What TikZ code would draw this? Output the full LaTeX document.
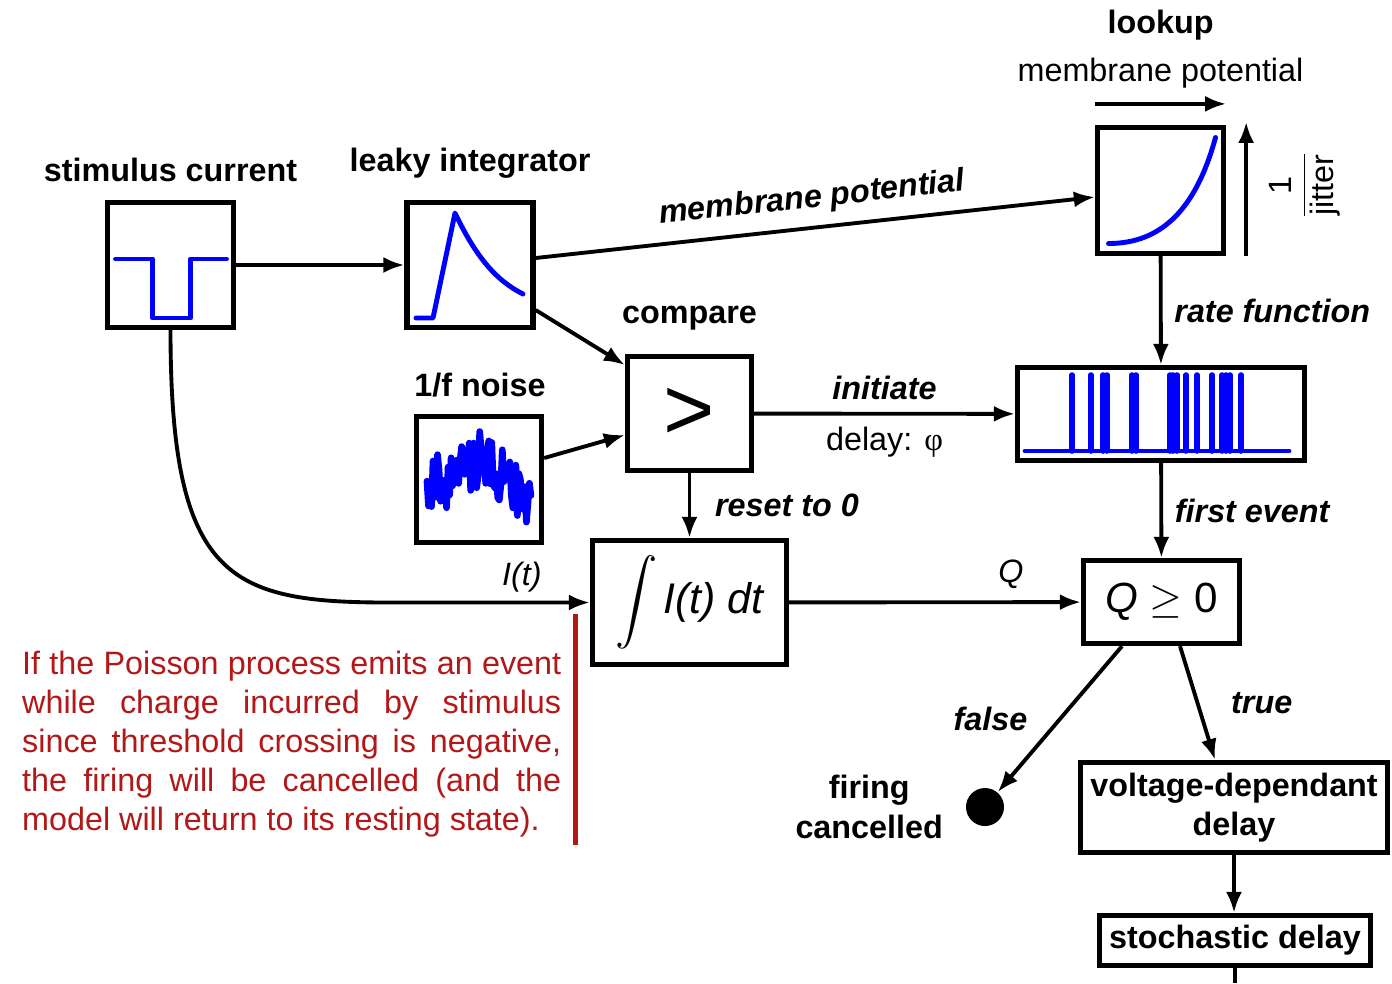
\documentclass[tikz,border=0pt]{standalone}
\usepackage{amsmath}
\usepackage{fontspec}
\setmainfont{Liberation Sans}
\newfontfamily\phifont{Liberation Serif}
\usetikzlibrary{arrows.meta}
\definecolor{notered}{RGB}{178,24,24}
\tikzset{
  box/.style={draw, line width=1.5pt, fill=white, inner sep=0pt},
  conn/.style={line width=1.1pt, -{Latex[length=0.21cm,width=0.16cm]}},
  sig/.style={blue, line width=1.4pt, line cap=round, line join=round},
  lbl/.style={font=\fontsize{9.2}{11.3}\selectfont\bfseries},
  elbl/.style={font=\fontsize{9.2}{11.3}\selectfont\bfseries\itshape},
  txt/.style={font=\fontsize{9.2}{11.1}\selectfont},
}
\begin{document}
\begin{tikzpicture}
  \useasboundingbox (0,0) rectangle (13.92,-9.83);
  %blocks
  \node[box, minimum width=1.26cm, minimum height=1.25cm] (stim) at (1.705,-2.65) {};
  \node[box, minimum width=1.26cm, minimum height=1.25cm] (leaky) at (4.70,-2.65) {};
  \node[box, minimum width=1.26cm, minimum height=1.26cm] (lookup) at (11.605,-1.905) {};
  \node[box, minimum width=1.24cm, minimum height=1.14cm, font=\fontsize{25}{25}\selectfont] (compare) at (6.895,-4.135) {>};
  \node[box, minimum width=1.25cm, minimum height=1.26cm] (noise) at (4.79,-4.795) {};
  \node[box, minimum width=2.87cm, minimum height=0.93cm] (spikes) at (11.61,-4.14) {};
  \node[box, minimum width=1.94cm, minimum height=1.24cm] (integ) at (6.895,-6.025)
    {{\fontsize{11.5}{14}\selectfont$\displaystyle\int$}\,{\fontsize{12.2}{14}\selectfont\itshape I(t) dt}};
  \node[box, minimum width=1.56cm, minimum height=0.83cm] (qtest) at (11.615,-6.02)
    {\fontsize{12}{14}\selectfont\itshape Q \upshape$\geq$ 0};
  \node[box, lbl, align=center, minimum width=3.07cm, minimum height=0.9cm] (vdelay) at (12.34,-8.075)
    {voltage-dependant\\delay};
  \node[box, lbl, minimum width=2.71cm, minimum height=0.5cm] (sdelay) at (12.35,-9.405) {stochastic delay};
  \node[circle, fill, inner sep=0pt, minimum size=0.38cm] (dot) at (9.85,-8.07) {};
  \coordinate (out) at (12.36,-9.83);
  %signals inside the blocks
  \begin{scope}[shift={(stim.center)}]
    \draw[sig] (-0.55,0.06) -- (-0.18,0.06) -- (-0.18,-0.53) -- (0.2,-0.53) -- (0.2,0.06) -- (0.56,0.06);
  \end{scope}
  \begin{scope}[shift={(leaky.center)}]
    \draw[sig] (-0.54,-0.53) -- (-0.37,-0.53) -- (-0.15,0.52) .. controls (0.05,0.1) and (0.25,-0.15) .. (0.53,-0.29);
  \end{scope}
  \begin{scope}[shift={(lookup.center)}]
    \draw[sig] (-0.52,-0.53) .. controls (0.0,-0.53) and (0.35,-0.2) .. (0.55,0.53);
  \end{scope}
  \begin{scope}[shift={(noise.center)}]
    \pgfmathsetseed{5}
    \draw[sig, line width=1.9pt] plot[domain=-0.52:0.52, samples=70]
      (\x, {0.3*exp(-((\x-0.03)^2)/0.05) - 0.08 - 0.15*\x + 0.29*rand});
  \end{scope}
  \begin{scope}[shift={(spikes.center)}]
    \draw[sig] (-1.36,-0.37) -- (1.28,-0.37);
    \foreach \s in {-0.89,-0.70,-0.58,-0.54,-0.29,-0.25,0.09,0.12,0.16,0.25,0.36,0.51,0.61,0.65,0.69,0.80}
      \draw[sig, line width=1.6pt] (\s,-0.37) -- (\s,0.39);
  \end{scope}
  %labels
  \node[lbl] (stimlbl) at (1.705,-1.70) {stimulus current};
  \node[lbl] (leakylbl) at (4.70,-1.63) {leaky integrator};
  \node[lbl] (lookuplbl) at (11.605,-0.25) {lookup};
  \node[txt] (memlbl) at (11.605,-0.73) {membrane potential};
  \node[lbl] (cmplbl) at (6.895,-3.18) {compare};
  \node[lbl] (noiselbl) at (4.80,-3.85) {1/f noise};
  \node[txt, rotate=90] (jitlbl) at (13.05,-1.85) {$\displaystyle\frac{\mbox{1}}{\mbox{jitter}}$};
  \node[txt] (ilbl) at ([xshift=-0.68cm,yshift=0.25cm]integ.west) {\textit{I(t)}};
  \node[lbl, align=center, left=0.1cm] (firelbl) at (dot.west) {firing\\cancelled};
  %connectors
  \draw[conn] (stim) -- (leaky);
  \draw[conn] ([yshift=0.07cm]leaky.east) -- node[elbl, sloped, above] {membrane potential} ([yshift=-0.065cm]lookup.west);
  \draw[conn] ([yshift=-0.45cm]leaky.east) -- ([yshift=0.485cm]compare.west);
  \draw[conn] ([yshift=0.215cm]noise.east) -- ([yshift=-0.215cm]compare.west);
  \draw[conn] (compare) -- node[elbl, above] {initiate} node[txt, below] {delay: {\phifont φ}} (spikes);
  \draw[conn] (lookup) -- node[elbl, right] {rate function} (spikes);
  \draw[conn] (compare) -- node[elbl, right=0.12cm] {reset to 0} (integ);
  \draw[conn] (spikes) -- node[elbl, right] {first event} (qtest);
  \draw[conn] (integ) -- node[txt, above, pos=0.76] {\textit{Q}} (qtest);
  \draw[conn] (stim.south) .. controls +(0,-2.5) and +(-1.6,0) .. ([xshift=-2cm]integ.west) -- (integ.west);
  \draw[conn] ([xshift=-0.395cm]qtest.south) -- node[elbl, left=0.19cm] {false} (dot);
  \draw[conn] ([xshift=0.185cm]qtest.south) -- node[elbl, right=0.2cm] {true} ([xshift=-0.19cm]vdelay.north);
  \draw[conn] (vdelay.south) -- (vdelay.south |- sdelay.north);
  \draw[line width=1.1pt] (sdelay.south) -- (sdelay.south |- out);
  %lookup axes
  \draw[conn] ([yshift=0.21cm]lookup.north west) -- ([yshift=0.21cm]lookup.north east);
  \draw[conn] ([xshift=0.2cm]lookup.south east) -- ([xshift=0.2cm,yshift=0.03cm]lookup.north east);
  %note
  \node[txt, text=notered, text width=5.39cm, align=justify, inner sep=0pt, anchor=north west] (note) at (0.215,-6.50)
    {If the Poisson process emits an event while charge incurred by stimulus since threshold crossing is negative, the firing will be cancelled (and the model will return to its resting state).};
  \draw[notered, line width=1.3pt] (5.755,-6.14) -- (5.755,-8.45);
\end{tikzpicture}
\end{document}
